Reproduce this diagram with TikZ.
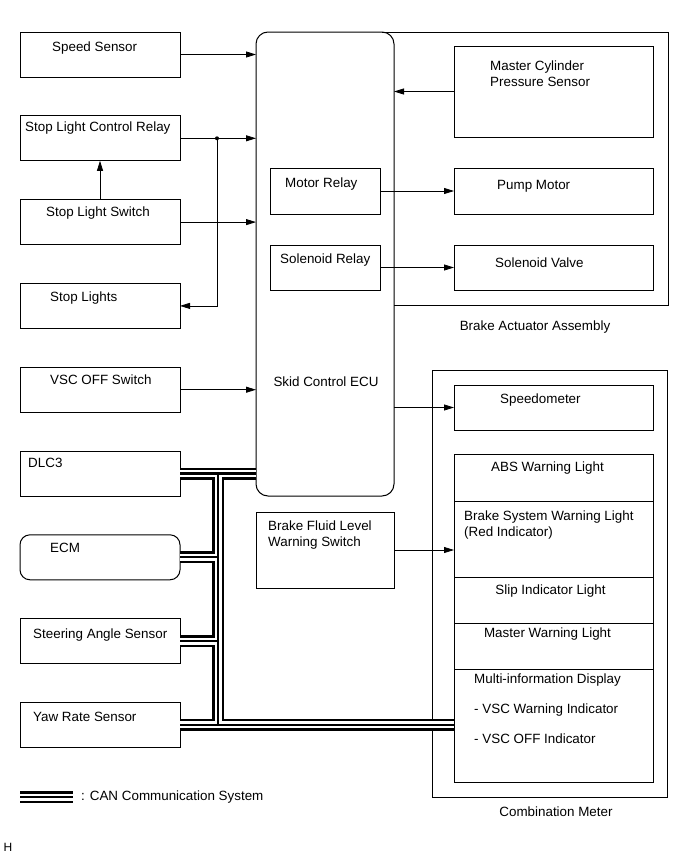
\documentclass[tikz,border=0pt]{standalone}
\usepackage{fontspec}
\setmainfont{Liberation Sans}
\usetikzlibrary{arrows.meta, positioning, calc}

\begin{document}
\begin{tikzpicture}[x=1pt, y=-1pt, >={Triangle[length=10pt, width=6pt]},
    every node/.style={font=\fontsize{13.4}{16}\selectfont},
    unit/.style={draw, line width=1pt, outer sep=0pt, inner sep=0pt, minimum width=160pt, minimum height=45pt},
    part/.style={draw, line width=1pt, outer sep=0pt, inner sep=0pt, minimum width=199pt},
    relay/.style={draw, line width=1pt, outer sep=0pt, inner sep=0pt, minimum width=110pt},
    txt/.style={inner sep=0pt, anchor=west, align=left},
    wire/.style={line width=0.8pt}]

    \useasboundingbox (0,0) rectangle (691,854);

    % left column
    \node [unit] (speed) at (100, 54.5) {};
    \node [unit] (slcr) at ($(speed) + (0, 83.8)$) {};
    \node [unit] (sls) at ($(slcr) + (0, 83.8)$) {};
    \node [unit] (lights) at ($(sls) + (0, 83.8)$) {};
    \node [unit] (vscoff) at ($(lights) + (0, 83.8)$) {};
    \node [unit] (dlc3) at ($(vscoff) + (0, 83.8)$) {};
    \node [unit, rounded corners=10pt] (ecm) at ($(dlc3) + (0, 83.8)$) {};
    \node [unit] (steer) at ($(ecm) + (0, 83.8)$) {};
    \node [unit] (yaw) at ($(steer) + (0, 83.8)$) {};

    \node [txt] (speedtxt) at ($(speed.north west) + (32, 16)$) {Speed Sensor};
    \node [txt] (slcrtxt) at ($(slcr.north west) + (5, 12)$) {Stop Light Control Relay};
    \node [txt] (slstxt) at ($(sls.north west) + (26, 13)$) {Stop Light Switch};
    \node [txt] (lightstxt) at ($(lights.north west) + (30, 15)$) {Stop Lights};
    \node [txt] (vscofftxt) at ($(vscoff.north west) + (30, 13)$) {VSC OFF Switch};
    \node [txt] (dlc3txt) at ($(dlc3.north west) + (8, 12)$) {DLC3};
    \node [txt] (ecmtxt) at ($(ecm.north west) + (30, 13)$) {ECM};
    \node [txt] (steertxt) at ($(steer.north west) + (13, 16)$) {Steering Angle Sensor};
    \node [txt] (yawtxt) at ($(yaw.north west) + (13, 14)$) {Yaw Rate Sensor};

    % ECU and actuator
    \node [draw, line width=1pt, outer sep=0pt, rounded corners=12pt, minimum width=138pt, minimum height=464pt] (ecu) at (325, 264) {};
    \node [inner sep=0pt] (ecutxt) at ($(ecu.north) + (1, 350)$) {Skid Control ECU};
    \node [relay, minimum height=46pt] (motor) at (325, 191) {};
    \node [relay, minimum height=45pt] (solrelay) at (325, 267.5) {};
    \node [txt] (motortxt) at ($(motor.north west) + (15, 16)$) {Motor Relay};
    \node [txt] (solrelaytxt) at ($(solrelay.north west) + (10, 15)$) {Solenoid Relay};
    \node [relay, minimum width=138pt, minimum height=76pt] (fluid) at (325, 550) {};
    \node [txt] (fluidtxt) at ($(fluid.north west) + (12, 23)$) {Brake Fluid Level\\Warning Switch};

    \coordinate (actse) at (668, 305.5);
    \draw [line width=1pt] ($(ecu.north east) + (-12, 0)$) -| (actse) -- (actse -| ecu.east);
    \node [inner sep=0pt] (acttxt) at ($(actse) + (-133, 21.5)$) {Brake Actuator Assembly};

    \node [part, minimum height=91pt] (mcps) at (553.5, 91.5) {};
    \node [txt] (mcpstxt) at ($(mcps.north west) + (36, 28)$) {Master Cylinder\\Pressure Sensor};
    \node [part, minimum height=46pt] (pump) at (553.5, 191) {};
    \node [txt] (pumptxt) at ($(pump.north west) + (43, 18)$) {Pump Motor};
    \node [part, minimum height=45pt] (solvalve) at (553.5, 267.5) {};
    \node [txt] (solvalvetxt) at ($(solvalve.north west) + (41, 18)$) {Solenoid Valve};

    % combination meter
    \node [draw, line width=1pt, outer sep=0pt, minimum width=235pt, minimum height=427pt] (meter) at (549.5, 583.5) {};
    \node [inner sep=0pt] (metertxt) at ($(meter.south) + (6.5, 15)$) {Combination Meter};
    \node [part, minimum height=45pt] (speedo) at (553.5, 407.5) {};
    \node [txt] (speedotxt) at ($(speedo.north west) + (46, 15)$) {Speedometer};
    \node [part, minimum height=47pt] (abs) at (553.5, 477.5) {};
    \node [part, minimum height=76pt, below=0pt of abs] (bswl) {};
    \node [part, minimum height=46pt, below=0pt of bswl] (slip) {};
    \node [part, minimum height=46pt, below=0pt of slip] (mwl) {};
    \node [part, minimum height=113pt, below=0pt of mwl] (mid) {};
    \node [inner sep=0pt] (abstxt) at ($(abs.north) + (-6, 14)$) {ABS Warning Light};
    \node [txt] (bswltxt) at ($(bswl.north west) + (10, 24)$) {Brake System Warning Light\\(Red Indicator)};
    \node [inner sep=0pt] (sliptxt) at ($(slip.north) + (-3, 14)$) {Slip Indicator Light};
    \node [inner sep=0pt] (mwltxt) at ($(mwl.north) + (-6, 11)$) {Master Warning Light};
    \node [txt] (midtxt) at ($(mid.north west) + (20, 40)$) {Multi-information Display\\[14pt]- VSC Warning Indicator\\[14pt]- VSC OFF Indicator};

    % signal lines
    \coordinate (tap) at ($(slcr.east) + (37, 0)$);
    \draw [wire, ->] (speed) -- (speed -| ecu.west);
    \draw [wire, ->] (slcr) -- (slcr -| ecu.west);
    \fill (tap) circle (2pt);
    \draw [wire, ->] (tap) |- (lights);
    \draw [wire, ->] (sls) -- (slcr);
    \draw [wire, ->] (sls) -- (sls -| ecu.west);
    \draw [wire, ->] (vscoff) -- (vscoff -| ecu.west);
    \draw [wire, ->] (mcps) -- (mcps -| ecu.east);
    \draw [wire, ->] (motor) -- (pump);
    \draw [wire, ->] (solrelay) -- (solvalve);
    \draw [wire, ->] (speedo -| ecu.east) -- (speedo);
    \draw [wire, ->] (fluid) -- (fluid -| bswl.west);

    % CAN lines
    \coordinate (trunk) at ($(dlc3.east) + (38, 0)$);
    \coordinate (legl) at (20, 797);
    \coordinate (legr) at (73, 797);
    \foreach \w/\c in {12pt/black, 7pt/white, 2.2pt/black}
        \draw [line width=\w, color=\c] (dlc3.east) -- (dlc3 -| ecu.west)
            (trunk) -- (trunk |- yaw)
            (ecm.east) -- (ecm -| trunk)
            (steer.east) -- (steer -| trunk)
            (yaw.east) -- (yaw -| mid.west)
            (legl) -- (legr);
    \node [txt] (legtxt) at ($(legr) + (8, 0)$) {: CAN Communication System};
    \node [font=\fontsize{12}{14}\selectfont, inner sep=0pt] (hmark) at (8, 847) {H};
\end{tikzpicture}
\end{document}
